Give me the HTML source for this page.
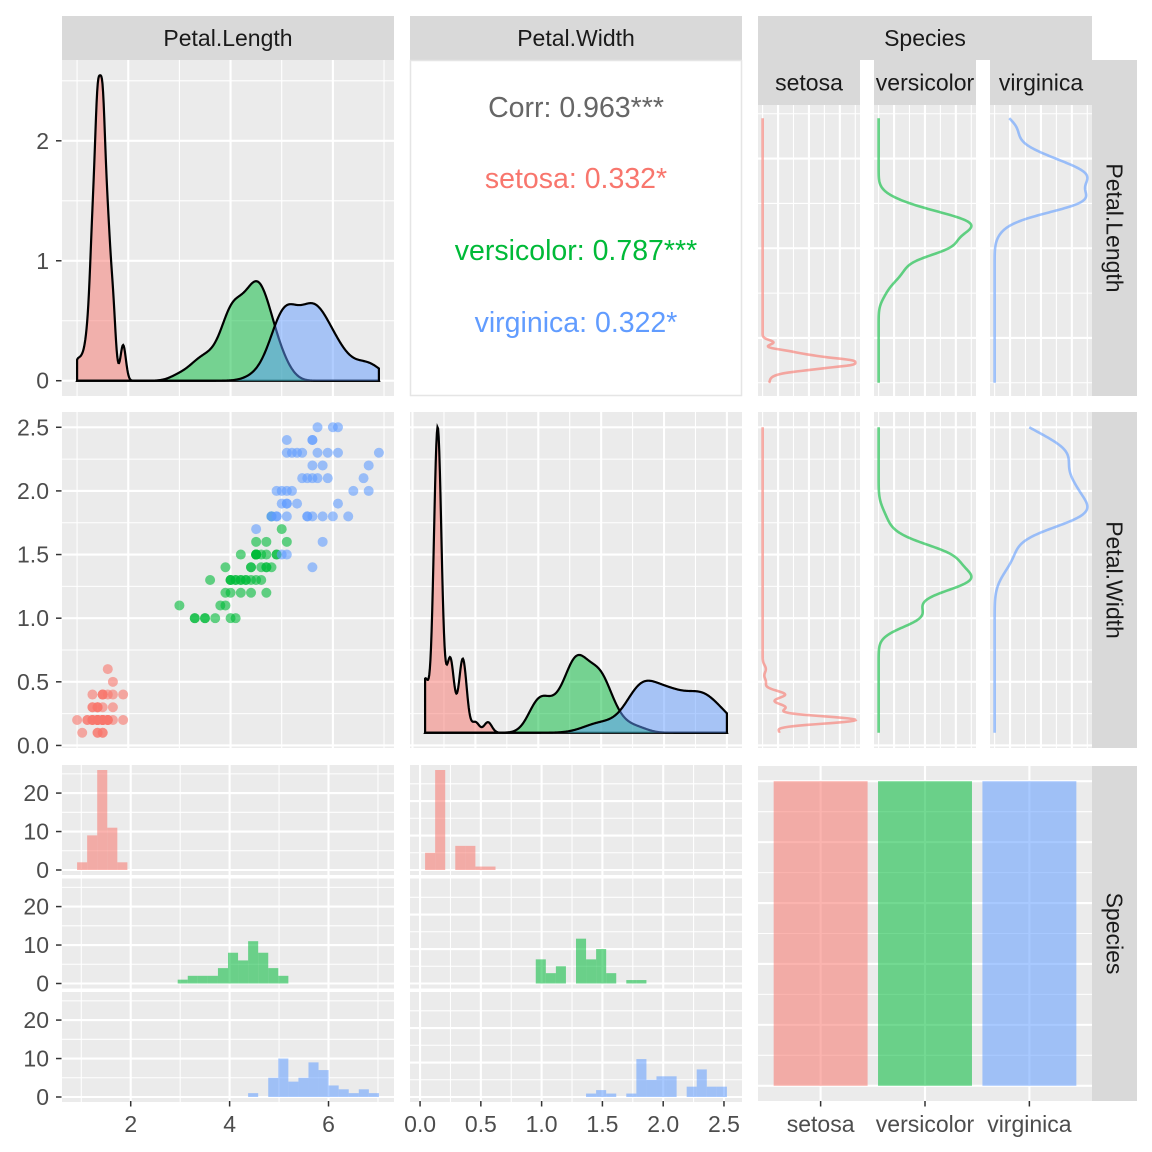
<!DOCTYPE html>
<html><head><meta charset="utf-8">
<style>
html,body{margin:0;padding:0;background:#fff;}
svg{display:block;font-family:"Liberation Sans",Arial,sans-serif;}
</style></head>
<body>
<svg id="chart" xmlns="http://www.w3.org/2000/svg" width="1152" height="1152" viewBox="0 0 1152 1152"></svg>
<script>
const species=['setosa','versicolor','virginica'];
const colors=['#F8766D','#00BA38','#619CFF'];
const plSetosa=[1.4,1.4,1.3,1.5,1.4,1.7,1.4,1.5,1.4,1.5,1.5,1.6,1.4,1.1,1.2,1.5,1.3,1.4,1.7,1.5,1.7,1.5,1.0,1.7,1.9,1.6,1.6,1.5,1.4,1.6,1.6,1.5,1.5,1.4,1.5,1.2,1.3,1.4,1.3,1.5,1.3,1.3,1.3,1.6,1.9,1.4,1.6,1.4,1.5,1.4];
const plVersicolor=[4.7,4.5,4.9,4.0,4.6,4.5,4.7,3.3,4.6,3.9,3.5,4.2,4.0,4.7,3.6,4.4,4.5,4.1,4.5,3.9,4.8,4.0,4.9,4.7,4.3,4.4,4.8,5.0,4.5,3.5,3.8,3.7,3.9,5.1,4.5,4.5,4.7,4.4,4.1,4.0,4.4,4.6,4.0,3.3,4.2,4.2,4.2,4.3,3.0,4.1];
const plVirginica=[6.0,5.1,5.9,5.6,5.8,6.6,4.5,6.3,5.8,6.1,5.1,5.3,5.5,5.0,5.1,5.3,5.5,6.7,6.9,5.0,5.7,4.9,6.7,4.9,5.7,6.0,4.8,4.9,5.6,5.8,6.1,6.4,5.6,5.1,5.6,6.1,5.6,5.5,4.8,5.4,5.6,5.1,5.1,5.9,5.7,5.2,5.0,5.2,5.4,5.1];
const pwSetosa=[0.2,0.2,0.2,0.2,0.2,0.4,0.3,0.2,0.2,0.1,0.2,0.2,0.1,0.1,0.2,0.4,0.4,0.3,0.3,0.3,0.2,0.4,0.2,0.5,0.2,0.2,0.4,0.2,0.2,0.2,0.2,0.4,0.1,0.2,0.2,0.2,0.2,0.1,0.2,0.2,0.3,0.3,0.2,0.6,0.4,0.3,0.2,0.2,0.2,0.2];
const pwVersicolor=[1.4,1.5,1.5,1.3,1.5,1.3,1.6,1.0,1.3,1.4,1.0,1.5,1.0,1.4,1.3,1.4,1.5,1.0,1.5,1.1,1.8,1.3,1.5,1.2,1.3,1.4,1.4,1.7,1.5,1.0,1.1,1.0,1.2,1.6,1.5,1.6,1.5,1.3,1.3,1.3,1.2,1.4,1.2,1.0,1.3,1.2,1.3,1.3,1.1,1.3];
const pwVirginica=[2.5,1.9,2.1,1.8,2.2,2.1,1.7,1.8,1.8,2.5,2.0,1.9,2.1,2.0,2.4,2.3,1.8,2.2,2.3,1.5,2.3,2.0,2.0,1.8,2.1,1.8,1.8,1.8,2.1,1.6,1.9,2.0,2.2,1.5,1.4,2.3,2.4,1.8,1.8,2.1,2.4,2.3,1.9,2.3,2.5,2.3,1.9,2.0,2.3,1.8];
const corrLabels=['Corr: 0.963***','setosa: 0.332*','versicolor: 0.787***','virginica: 0.322*'];
const speciesCounts=[50,50,50];
const plTicks=[2,4,6];
const pwTicks=[0,0.5,1,1.5,2,2.5];
const pwTickLabels=['0.0','0.5','1.0','1.5','2.0','2.5'];
const densTicks=[0,1,2];
const countTicks=[0,10,20];

const PL=[plSetosa,plVersicolor,plVirginica];
const PW=[pwSetosa,pwVersicolor,pwVirginica];
const NS='http://www.w3.org/2000/svg';
const svg=document.getElementById('chart');
const FS=23;
function el(tag,attrs,parent){const e=document.createElementNS(NS,tag);for(const k in attrs)e.setAttribute(k,attrs[k]);(parent||svg).appendChild(e);return e;}
const flat=a=>[].concat(...a);
const allPL=flat(PL), allPW=flat(PW);
const minPL=Math.min(...allPL),maxPL=Math.max(...allPL),minPW=Math.min(...allPW),maxPW=Math.max(...allPW);

function quant(s,p){const h=(s.length-1)*p,l=Math.floor(h);return s[l]+(h-l)*((s[Math.min(l+1,s.length-1)])-s[l]);}
function kde(arr,lo,hi){const n=arr.length,m=arr.reduce((a,b)=>a+b)/n;const sd=Math.sqrt(arr.reduce((a,b)=>a+(b-m)*(b-m),0)/(n-1));const s=[...arr].sort((a,b)=>a-b);const iqr=quant(s,0.75)-quant(s,0.25);let lo2=Math.min(sd,iqr/1.34);if(!(lo2>0))lo2=sd;const bw=0.9*lo2*Math.pow(n,-0.2);const out=[];for(let i=0;i<512;i++){const x=lo+(hi-lo)*i/511;let d=0;for(const v of arr){const z=(x-v)/bw;d+=Math.exp(-0.5*z*z);}out.push([x,d/(n*bw*Math.sqrt(2*Math.PI))]);}return out;}
function binsOf(all,data){const mn=Math.min(...all),mx=Math.max(...all),w=(mx-mn)/29,b=w/2,sh=Math.floor((mn-b)/w),o=b+sh*w;const res=data.map(arr=>{const c=new Array(31).fill(0);arr.forEach(v=>{let k=Math.ceil((v-o)/w-1e-9)-1;if(k<0)k=0;c[k]++;});return c;});return {o,w,res};}

function panel(x,y,w,h,name,fill){const r=el('rect',{x,y,width:w,height:h,fill:fill||'#EBEBEB'});return r;}
function gl(x1,y1,x2,y2,major){const l=el('line',{x1,y1,x2,y2,stroke:'#fff','stroke-width':major?2.1:1.05});return l;}
function txt(x,y,s,opt){const t=el('text',Object.assign({x,y,'font-size':FS,fill:'#4D4D4D'},opt||{}));t.textContent=s;return t;}
function vgrid(px0,px1,py0,py1,scale,majors,minors){minors.forEach(v=>{const X=scale(v);if(X>px0&&X<px1)gl(X,py0,X,py1,false);});majors.forEach(v=>{const X=scale(v);if(X>px0&&X<px1)gl(X,py0,X,py1,true);});}
function hgrid(px0,px1,py0,py1,scale,majors,minors){minors.forEach(v=>{const Y=scale(v);if(Y>py0&&Y<py1)gl(px0,Y,px1,Y,false);});majors.forEach(v=>{const Y=scale(v);if(Y>py0&&Y<py1)gl(px0,Y,px1,Y,true);});}
function ytick(Y,label,name){const l=el('line',{x1:56,y1:Y,x2:61.5,y2:Y,stroke:'#333','stroke-width':1.5});const t=txt(49,Y+8,label,{'text-anchor':'end'});}
function xtick(X,label,name){const l=el('line',{x1:X,y1:1101,x2:X,y2:1106.5,stroke:'#333','stroke-width':1.5});const t=txt(X,1132,label,{'text-anchor':'middle'});}
function strip(x,y,w,h,label,rot){const r=el('rect',{x,y,width:w,height:h,fill:'#D9D9D9'});
 let t;if(rot){t=el('text',{x:0,y:0,'font-size':FS,fill:'#1A1A1A','text-anchor':'middle',transform:`translate(${x+w/2-8},${y+h/2}) rotate(90)`});}else{t=el('text',{x:x+w/2,y:y+h/2+8,'font-size':FS,fill:'#1A1A1A','text-anchor':'middle'});}
 t.textContent=label;}

strip(62,16,332,44,'Petal.Length');
strip(410,16,332,44,'Petal.Width');
strip(758,16,334,44,'Species');
const facetX=[758,874,990],facetW=102;
species.forEach((s,i)=>strip(facetX[i],60,facetW,45,s));
strip(1092,60,45,336,'Petal.Length',true);
strip(1092,412,45,336,'Petal.Width',true);
strip(1092,766,45,335,'Species',true);

const dPL=PL.map(a=>kde(a,minPL,maxPL));
const M1=Math.max(...flat(dPL.map(d=>d.map(p=>p[1]))));
const x11=v=>62+(v-(minPL-0.05*(maxPL-minPL)))*332/(1.1*(maxPL-minPL));
const y11=d=>396-(d+0.05*M1)/(1.1*M1)*336;
panel(62,60,332,336,'density-petal-length-panel');
vgrid(62,394,60,396,x11,[2,4,6],[1,3,5,7]);
hgrid(62,394,60,396,y11,densTicks,[0.5,1.5,2.5]);
dPL.forEach((d,i)=>{let p=`M${x11(d[0][0])},${y11(0)}`;d.forEach(q=>p+=`L${x11(q[0]).toFixed(2)},${y11(q[1]).toFixed(2)}`);p+=`L${x11(d[d.length-1][0])},${y11(0)}`;
 const a=el('path',{d:p+'Z',fill:colors[i],'fill-opacity':0.5,stroke:'none'});
 const o=el('path',{d:p,fill:'none',stroke:'#000','stroke-width':2.2});});
densTicks.forEach(v=>ytick(y11(v),String(v),'y-tick-label-density'));

const cp=panel(410.5,60.5,331,335,'correlation-panel','#fff');cp.setAttribute('stroke','#E5E5E5');cp.setAttribute('stroke-width',1.5);
const corrColors=['#666666'].concat(colors);
[117,188,260,332].forEach((Y,i)=>{const t=txt(576,Y,corrLabels[i],{'font-size':28.5,fill:corrColors[i],'text-anchor':'middle'});});

function facetRow(vals,lo,hi,py0,py1,ymaj,ymin,name){
 const ys=v=>py1-(v-lo+0.05*(hi-lo))/(1.1*(hi-lo))*(py1-py0);
 species.forEach((s,i)=>{const fx=facetX[i];panel(fx,py0,facetW,py1-py0,name+'-'+s+'-panel');
  for(let k=0;k<7;k++){const X=fx+4.6+k*15.45;gl(X,py0,X,py1,k%2===1);}
  hgrid(fx,fx+facetW,py0,py1,ys,ymaj,ymin);
  const d=kde(vals[i],lo,hi);const M=Math.max(...d.map(q=>q[1]));const xs=v=>fx+facetW*0.05/1.1+v/M*facetW/1.1;
  let p='';d.forEach((q,j)=>p+=(j?'L':'M')+xs(q[1]).toFixed(2)+','+ys(q[0]).toFixed(2));
  const l=el('path',{d:p,fill:'none',stroke:colors[i],'stroke-opacity':0.6,'stroke-width':2.6});});
}
facetRow(PL,minPL,maxPL,105,396,[2,4,6],[1,3,5,7],'species-density-petal-length');
facetRow(PW,minPW,maxPW,412,748,[0,0.5,1,1.5,2,2.5],[0.25,0.75,1.25,1.75,2.25],'species-density-petal-width');

const x21=x11;
const y21=v=>748-(v-(minPW-0.05*(maxPW-minPW)))*336/(1.1*(maxPW-minPW));
panel(62,412,332,336,'scatter-panel');
vgrid(62,394,412,748,x21,[2,4,6],[1,3,5,7]);
hgrid(62,394,412,748,y21,pwTicks,[0.25,0.75,1.25,1.75,2.25]);
PL.forEach((arr,i)=>arr.forEach((v,j)=>{const c=el('circle',{cx:x21(v).toFixed(2),cy:y21(PW[i][j]).toFixed(2),r:5,fill:colors[i],'fill-opacity':0.6});}));
pwTicks.forEach((v,k)=>ytick(y21(v),pwTickLabels[k],'y-tick-label-petal-width'));

const dPW=PW.map(a=>kde(a,minPW,maxPW));
const M2=Math.max(...flat(dPW.map(d=>d.map(p=>p[1]))));
const x22=v=>410+(v-(minPW-0.05*(maxPW-minPW)))*332/(1.1*(maxPW-minPW));
const y22=d=>748-(d+0.05*M2)/(1.1*M2)*336;
panel(410,412,332,336,'density-petal-width-panel');
vgrid(410,742,412,748,x22,pwTicks,[0.25,0.75,1.25,1.75,2.25]);
hgrid(410,742,412,748,y21,pwTicks,[0.25,0.75,1.25,1.75,2.25]);
dPW.forEach((d,i)=>{let p=`M${x22(d[0][0])},${y22(0)}`;d.forEach(q=>p+=`L${x22(q[0]).toFixed(2)},${y22(q[1]).toFixed(2)}`);p+=`L${x22(d[d.length-1][0])},${y22(0)}`;
 const a=el('path',{d:p+'Z',fill:colors[i],'fill-opacity':0.5,stroke:'none'});
 const o=el('path',{d:p,fill:'none',stroke:'#000','stroke-width':2.2});});

const subTop=[765,878.5,992],subH=110;
function histCol(all,data,px,pw,xs,xmaj,xmin,name,withTicks){
 const b=binsOf(all,data);const M=Math.max(...flat(b.res));
 species.forEach((s,i)=>{const top=subTop[i],bot=top+subH;const ys=c=>bot-(c+0.05*M)/(1.1*M)*subH;
  panel(px,top,pw,subH,name+'-'+s+'-panel');
  vgrid(px,px+pw,top,bot,xs,xmaj,xmin);
  hgrid(px,px+pw,top,bot,ys,countTicks,[5,15,25]);
  b.res[i].forEach((c,k)=>{if(!c)return;const x0=xs(b.o+k*b.w),x1=xs(b.o+(k+1)*b.w);const r=el('rect',{x:x0.toFixed(2),y:ys(c).toFixed(2),width:(x1-x0).toFixed(2),height:(ys(0)-ys(c)).toFixed(2),fill:colors[i],'fill-opacity':0.55});});
  if(withTicks)countTicks.forEach(v=>ytick(ys(v),String(v),'y-tick-label-count'));});
}
const plEdgeLo=binsOf(allPL,[]).o;
const x31=v=>{const lo=plEdgeLo,hi=plEdgeLo+30*(maxPL-minPL)/29;return 62+(v-(lo-0.05*(hi-lo)))*332/(1.1*(hi-lo));};
const pwEdgeLo=binsOf(allPW,[]).o;
const x32=v=>{const lo=pwEdgeLo,hi=pwEdgeLo+30*(maxPW-minPW)/29;return 410+(v-(lo-0.05*(hi-lo)))*332/(1.1*(hi-lo));};
histCol(allPL,PL,62,332,x31,plTicks,[1,3,5,7],'hist-petal-length',true);
histCol(allPW,PW,410,332,x32,pwTicks,[0.25,0.75,1.25,1.75,2.25],'hist-petal-width',false);
plTicks.forEach(v=>xtick(x31(v),String(v),'x-tick-label-petal-length'));
pwTicks.forEach((v,k)=>xtick(x32(v),pwTickLabels[k],'x-tick-label-petal-width'));

panel(758,766,334,335,'species-bar-panel');
const maxCount=Math.max(...speciesCounts);
const y33=c=>1101-(c+0.05*maxCount)/(1.1*maxCount)*335;
const x33=i=>758+(i+1-0.4)*334/3.2;
hgrid(758,1092,766,1101,y33,[0,10,20,30,40,50],[5,15,25,35,45]);
species.forEach((s,i)=>{const X=x33(i);gl(X,766,X,1101,true);});
species.forEach((s,i)=>{const X=x33(i),hw=0.45*334/3.2;const r=el('rect',{x:(X-hw).toFixed(2),y:y33(speciesCounts[i]).toFixed(2),width:(2*hw).toFixed(2),height:(y33(0)-y33(speciesCounts[i])).toFixed(2),fill:colors[i],'fill-opacity':0.55});
 xtick(X,s,'x-tick-label-species');});
</script>
</body></html>
